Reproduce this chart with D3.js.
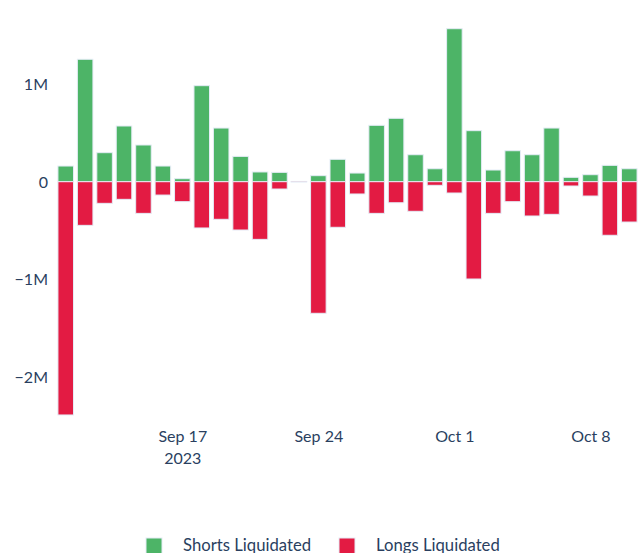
<html lang="en">
<head>
<meta charset="utf-8">
<title>Liquidations</title>
<style>
  body { margin: 0; background: white; font-family: Lato, "Open Sans", sans-serif; }
  svg { display: block; }
  .axis text { font-family: Lato, sans-serif; font-size: 16px; fill: #2a3f5f; }
  .axis path, .axis line { display: none; }
  .legend text { font-family: Lato, sans-serif; font-size: 16.7px; fill: #2a3f5f; }
</style>
</head>
<body>
<script src="https://cdnjs.cloudflare.com/ajax/libs/d3/7.8.5/d3.min.js"></script>
<script>
// days Sep 11 .. Oct 10 2023
var dates = ["2023-09-11","2023-09-12","2023-09-13","2023-09-14","2023-09-15","2023-09-16","2023-09-17",
             "2023-09-18","2023-09-19","2023-09-20","2023-09-21","2023-09-22","2023-09-23","2023-09-24",
             "2023-09-25","2023-09-26","2023-09-27","2023-09-28","2023-09-29","2023-09-30","2023-10-01",
             "2023-10-02","2023-10-03","2023-10-04","2023-10-05","2023-10-06","2023-10-07","2023-10-08",
             "2023-10-09","2023-10-10"];

var shorts = [161000, 1257000, 298000, 572000, 377000, 161000, 31000,
              986000, 551000, 260000, 100000, 96000, 3000, 62000,
              230000, 89000, 579000, 651000, 277000, 133000, 1571000,
              524000, 120000, 318000, 277000, 551000, 45000, 72000,
              168000, 133000];

var longs = [-2395000, -448000, -222000, -181000, -325000, -137000, -205000,
             -475000, -386000, -496000, -592000, -75000, -3000, -1351000,
             -468000, -126000, -325000, -216000, -304000, -37000, -116000,
             -999000, -325000, -205000, -352000, -335000, -44000, -147000,
             -550000, -414000];

var yTicks = [-2000000, -1000000, 0, 1000000];
var yTickLabels = ["\u22122M", "\u22121M", "0", "1M"];
var xTicks = ["2023-09-17", "2023-09-24", "2023-10-01", "2023-10-08"];
var xTickLabels = [["Sep 17", "2023"], ["Sep 24"], ["Oct 1"], ["Oct 8"]];

var seriesNames = ["Shorts Liquidated", "Longs Liquidated"];
var colors = ["#4db467", "#e31b43"];

var W = 642, H = 553;
var plot = {left: 56, right: 639, top: 10, bottom: 425};

var parse = d3.utcParse("%Y-%m-%d");
var half = 12 * 3600 * 1000;

var x = d3.scaleUtc()
  .domain([new Date(parse(dates[0]).getTime() - half), new Date(parse(dates[dates.length - 1]).getTime() + half)])
  .range([plot.left, plot.right]);

var y = d3.scaleLinear()
  .domain([-2498000, 1763000])
  .range([plot.bottom, plot.top]);

var svg = d3.select("body").append("svg")
  .attr("width", W)
  .attr("height", H);

var day = x(parse(dates[1])) - x(parse(dates[0]));
var bw = day * 0.8;

function drawBars(vals, color) {
  svg.append("g").selectAll("rect")
    .data(vals)
    .enter().append("rect")
    .attr("x", function(d, i) { return x(parse(dates[i])) - bw / 2; })
    .attr("y", function(d) { return Math.min(y(d), y(0)); })
    .attr("width", bw)
    .attr("height", function(d) { return Math.abs(y(d) - y(0)); })
    .attr("fill", color)
    .attr("stroke", "#E5ECF6")
    .attr("stroke-width", 1);
}
drawBars(shorts, colors[0]);
drawBars(longs, colors[1]);

// y axis
var yAxis = d3.axisLeft(y)
  .tickValues(yTicks)
  .tickSize(0)
  .tickPadding(8)
  .tickFormat(function(d, i) { return yTickLabels[i]; });

svg.append("g")
  .attr("class", "axis")
  .attr("transform", "translate(" + plot.left + ",0)")
  .call(yAxis)
  .selectAll("text")
  .attr("dy", "0.35em");

// x axis
var xAxis = d3.axisBottom(x)
  .tickValues(xTicks.map(parse))
  .tickSize(0)
  .tickFormat("");

var gx = svg.append("g")
  .attr("class", "axis")
  .attr("transform", "translate(0," + plot.bottom + ")")
  .call(xAxis);

gx.selectAll(".tick").each(function(d, i) {
  var t = d3.select(this).append("text")
    .attr("text-anchor", "middle")
    .attr("y", 17);
  xTickLabels[i].forEach(function(line, j) {
    t.append("tspan").attr("x", 0).attr("dy", j === 0 ? 0 : 22).text(line);
  });
});

// legend
var legend = svg.append("g").attr("class", "legend");
var legendX = [146, 339];
seriesNames.forEach(function(name, i) {
  var g = legend.append("g").attr("transform", "translate(" + legendX[i] + ",538)");
  g.append("rect").attr("width", 16).attr("height", 16)
    .attr("fill", colors[i]).attr("stroke", "#E5ECF6").attr("stroke-width", 1);
  g.append("text").attr("x", 37).attr("y", 13).text(name);
});
</script>
</body>
</html>
